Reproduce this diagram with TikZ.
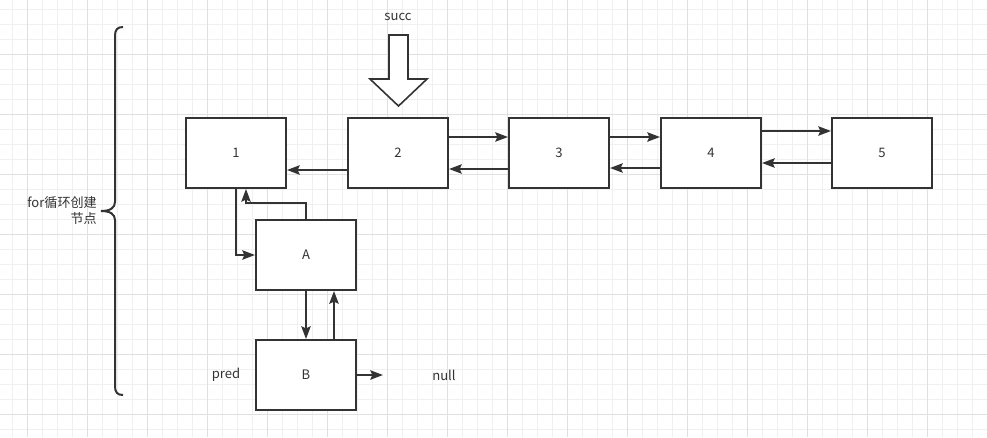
\documentclass[tikz,border=0pt]{standalone}
\usepackage{fontspec}
\setmainfont{Noto Sans CJK SC}
\usetikzlibrary{arrows.meta,calc}
\definecolor{ink}{RGB}{51,51,51}
\definecolor{gridminor}{RGB}{240,240,240}
\definecolor{gridmajor}{RGB}{224,224,224}
\begin{document}
\begin{tikzpicture}[x=0.75pt,y=-0.75pt,
  box/.style={draw=ink,line width=1.5pt,fill=white,minimum width=75pt,minimum height=52.5pt,inner sep=0pt,text=ink,font=\fontsize{9.8}{12}\selectfont},
  arr/.style={draw=ink,line width=1.5pt,-{Stealth[length=9.5pt,width=7pt,inset=1.5pt]}},
  lbl/.style={text=ink,inner sep=0pt,font=\fontsize{9.8}{12}\selectfont},
  gmin/.style={draw=gridminor,line width=0.75pt},
  gmaj/.style={draw=gridmajor,line width=0.75pt}]
\fill[white] (0,0) rectangle (987,437);
\useasboundingbox (0,0) rectangle (987,437);
% grid
\foreach \x in {12,27,...,987} \draw[gmin] (\x,0) -- (\x,437);
\foreach \y in {9,24,...,437} \draw[gmin] (0,\y) -- (987,\y);
\foreach \x in {27,87,...,987} \draw[gmaj] (\x,0) -- (\x,437);
\foreach \y in {54,114,...,437} \draw[gmaj] (0,\y) -- (987,\y);
% boxes
\node[box] (n1) at (236,153) {1};
\node[box] (n2) at (398,153) {2};
\node[box] (n3) at (559,153) {3};
\node[box] (n4) at (711,153) {4};
\node[box] (n5) at (882,153) {5};
\node[box] (A) at (306,255) {A};
\node[box] (B) at (306,375) {B};
% labels
\node[lbl] (succ) at (398,17) {succ};
\node[lbl] (pred) at (226,375) {pred};
\node[lbl] (null) at (444,375) {null};
\node[lbl,align=right,anchor=east] (forlbl) at (97,211) {for循环创建\\节点};
\coordinate (nullend) at (383,375);
% connectors
\draw[arr] ($(n2.west)+(0,17)$) -- ($(n1.east)+(0,17)$);
\draw[arr] ($(n2.east)+(0,-16)$) -- ($(n3.west)+(0,-16)$);
\draw[arr] ($(n3.west)+(0,16)$) -- ($(n2.east)+(0,16)$);
\draw[arr] ($(n3.east)+(0,-16)$) -- ($(n4.west)+(0,-16)$);
\draw[arr] ($(n4.west)+(0,15)$) -- ($(n3.east)+(0,15)$);
\draw[arr] ($(n4.east)+(0,-22)$) -- ($(n5.west)+(0,-22)$);
\draw[arr] ($(n5.west)+(0,10)$) -- ($(n4.east)+(0,10)$);
\draw[arr] (n1.south) |- (A.west);
\draw[arr,line width=1.2pt] (A.north) -- ++(0,-16) -| ($(n1.south)+(10,0)$);
\draw[arr] (A.south) -- (B.north);
\draw[arr] ($(B.north)+(28,0)$) -- ($(A.south)+(28,0)$);
\draw[arr] (B.east) -- (nullend);
% brace
\draw[ink,line width=1.5pt] (123,27) .. controls (117,27) and (115,30) .. (115,36) -- (115,202)
  .. controls (115,208) and (110,211) .. (101,211)
  .. controls (110,211) and (115,214) .. (115,220) -- (115,386)
  .. controls (115,392) and (117,395) .. (123,395);
% hollow arrow
\draw[ink,line width=1.2pt,fill=white,line join=miter] (389,35) -- (408,35) -- (408,79) -- (427,79) -- (398.5,106) -- (370,79) -- (389,79) -- cycle;
\end{tikzpicture}
\end{document}
